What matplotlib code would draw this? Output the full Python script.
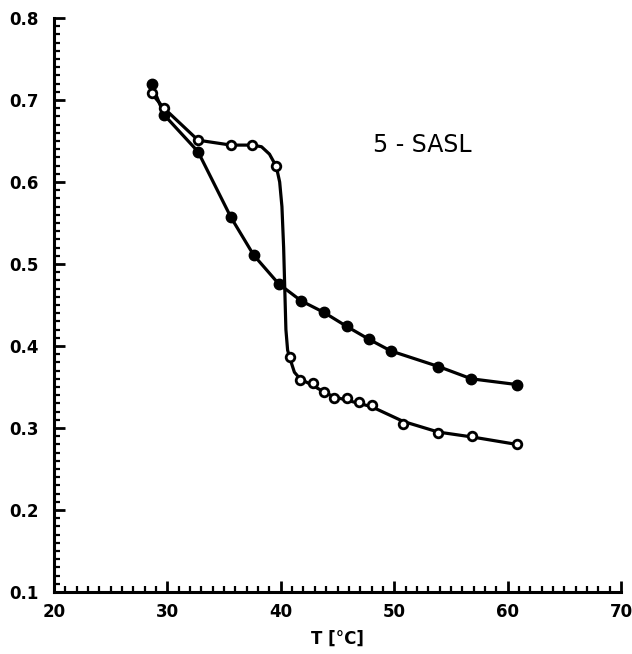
import numpy as np
import matplotlib.pyplot as plt
from matplotlib.ticker import MultipleLocator

# filled circles
T_filled = [28.6, 29.7, 32.7, 35.6, 37.6, 39.8, 41.8, 43.8, 45.8, 47.8, 49.7, 53.9, 56.8, 60.8]
v_filled = [0.720, 0.682, 0.637, 0.557, 0.511, 0.476, 0.455, 0.441, 0.424, 0.408, 0.394, 0.375, 0.360, 0.353]

# open circles
T_open = [28.6, 29.7, 32.7, 35.6, 37.5, 39.6, 40.8, 41.7, 42.8, 43.8, 44.7, 45.8, 46.9, 48.0, 50.8, 53.9, 56.9, 60.8]
v_open = [0.708, 0.690, 0.651, 0.645, 0.645, 0.619, 0.387, 0.358, 0.355, 0.344, 0.336, 0.336, 0.332, 0.328, 0.305, 0.294, 0.290, 0.280]

# drawn curve through the open points (steep step)
T_open_curve = [28.6, 29.7, 32.7, 35.6, 37.5, 38.3, 39.0, 39.6, 39.9, 40.1, 40.25, 40.35, 40.45, 40.6, 40.8, 41.2, 41.7, 42.8, 43.8, 44.7, 45.8, 46.9, 48.0, 50.8, 53.9, 56.9, 60.8]
v_open_curve = [0.708, 0.690, 0.651, 0.645, 0.645, 0.643, 0.634, 0.619, 0.600, 0.570, 0.52, 0.47, 0.42, 0.395, 0.385, 0.368, 0.360, 0.352, 0.344, 0.338, 0.334, 0.330, 0.326, 0.308, 0.295, 0.289, 0.280]

fig = plt.figure(figsize=(6.32, 6.54), dpi=100)
ax = fig.add_axes([54/632, 1 - 592/654, 567/632, 574/654])

ax.plot(T_filled, v_filled, color='black', lw=2.3, zorder=2)
ax.plot(T_open_curve, v_open_curve, color='black', lw=2.3, zorder=2)
ax.plot(T_filled, v_filled, 'o', color='black', ms=7.5, zorder=3)
ax.plot(T_open, v_open, 'o', mfc='white', mec='black', mew=2.0, ms=6.2, zorder=4)

ax.text(52.5, 0.645, '5 - SASL', fontsize=17, ha='center', va='center')

ax.set_xlim(20, 70)
ax.set_ylim(0.1, 0.8)
ax.xaxis.set_major_locator(MultipleLocator(10))
ax.xaxis.set_minor_locator(MultipleLocator(1))
ax.yaxis.set_major_locator(MultipleLocator(0.1))
ax.yaxis.set_minor_locator(MultipleLocator(0.01))
ax.set_yticklabels(['%.1f' % t for t in ax.get_yticks()])

for s in ['top', 'right']:
    ax.spines[s].set_visible(False)
for s in ['left', 'bottom']:
    ax.spines[s].set_linewidth(2.2)

ax.tick_params(which='major', direction='in', length=8, width=2, labelsize=12)
ax.tick_params(axis='y', which='major', pad=11)
ax.tick_params(axis='x', which='major', pad=8)
ax.tick_params(which='minor', direction='in', length=4.5, width=1.6)
for lab in ax.get_xticklabels() + ax.get_yticklabels():
    lab.set_fontweight('bold')

ax.set_xlabel('T [°C]', fontsize=12, fontweight='bold', labelpad=6)

fig.savefig('out.png', dpi=100)
